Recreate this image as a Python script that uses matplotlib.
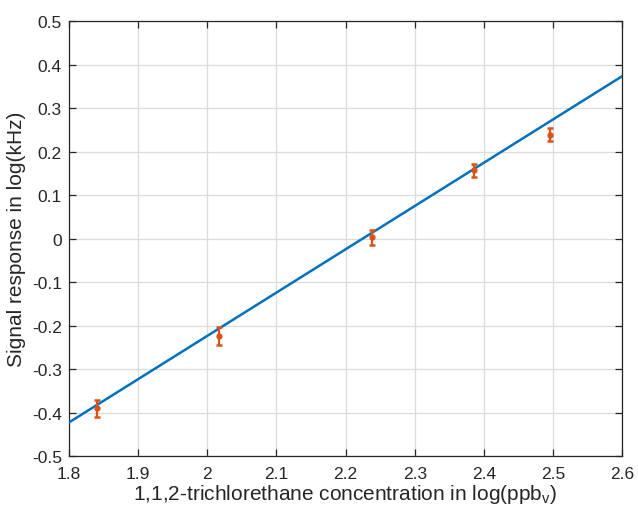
import matplotlib
matplotlib.use("Agg")
import matplotlib.pyplot as plt
import numpy as np

# Data
conc = [1.841, 2.017, 2.239, 2.385, 2.495]
signal = [-0.390, -0.223, 0.003, 0.158, 0.239]
err = [0.020, 0.020, 0.017, 0.015, 0.015]
fit_slope = 0.9957
fit_intercept = -2.2148
fit_range = [1.8, 2.6]
xticks = [1.8, 1.9, 2.0, 2.1, 2.2, 2.3, 2.4, 2.5, 2.6]
xticklabels = ["1.8", "1.9", "2", "2.1", "2.2", "2.3", "2.4", "2.5", "2.6"]
yticks = [-0.5, -0.4, -0.3, -0.2, -0.1, 0, 0.1, 0.2, 0.3, 0.4, 0.5]
yticklabels = ["-0.5", "-0.4", "-0.3", "-0.2", "-0.1", "0", "0.1", "0.2", "0.3", "0.4", "0.5"]

plt.rcParams['font.family'] = ['Liberation Sans', 'DejaVu Sans']
plt.rcParams['mathtext.fontset'] = 'custom'
plt.rcParams['mathtext.rm'] = 'Liberation Sans'
plt.rcParams['axes.unicode_minus'] = False

txt = '#262626'
fig = plt.figure(figsize=(6.38, 5.10), dpi=100)
ax = fig.add_axes([0.1077, 0.1033, 0.8677, 0.853])

fx = np.array(fit_range)
ax.plot(fx, fit_slope * fx + fit_intercept, color='#0072BD', lw=1.8, zorder=3)
ax.errorbar(conc, signal, yerr=err, fmt='o', color='#D95319', ms=3.5,
            elinewidth=1.6, capsize=2.5, capthick=1.8, zorder=4)

ax.set_xlim(1.8, 2.6)
ax.set_ylim(-0.5, 0.5)
ax.set_xticks(xticks)
ax.set_xticklabels(xticklabels)
ax.set_yticks(yticks)
ax.set_yticklabels(yticklabels)
ax.grid(True, color='#DCDCDC', lw=0.9)
ax.set_axisbelow(True)
ax.tick_params(direction='in', top=True, right=True, length=5, width=0.9,
               colors=txt, labelsize=12.5, pad=5)
ax.tick_params(axis='x', pad=7)
for s in ax.spines.values():
    s.set_color(txt)
    s.set_linewidth(0.9)

ax.set_xlabel(r'1,1,2-trichlorethane concentration in log(ppb$_{\mathrm{v}}$)',
              fontsize=15, color=txt, labelpad=1)
ax.set_ylabel('Signal response in log(kHz)', fontsize=15, color=txt, labelpad=4)

fig.savefig('out.png', dpi=100)
